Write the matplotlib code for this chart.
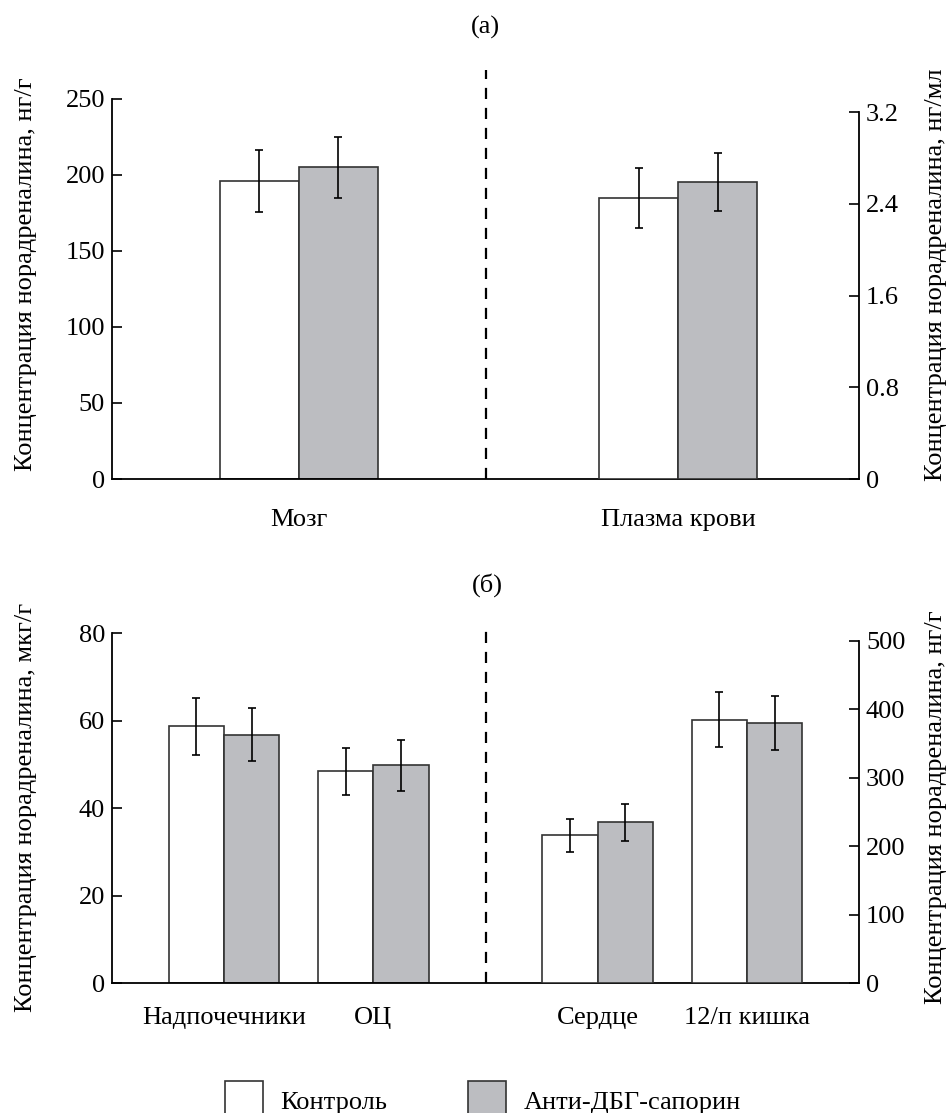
import matplotlib
matplotlib.use("Agg")
import matplotlib.pyplot as plt
from matplotlib.patches import Patch
import numpy as np

plt.rcParams['font.family'] = ['Liberation Serif', 'DejaVu Serif']
plt.rcParams['font.size'] = 19

# panel (a): brain (left axis, ng/g) and blood plasma (right axis, ng/ml)
a_groups = ['Мозг', 'Плазма крови']
a_control = [196, 2.45]
a_control_err = [20.5, 0.26]
a_saporin = [205, 2.59]
a_saporin_err = [20, 0.25]

# panel (б): adrenals and CNS (left axis, µg/g), heart and duodenum (right axis, ng/g)
b_groups = ['Надпочечники', 'ОЦ', 'Сердце', '12/п кишка']
b_control = [58.7, 48.4, 216, 385]
b_control_err = [6.5, 5.3, 24, 40]
b_saporin = [56.8, 49.8, 235, 380]
b_saporin_err = [6.0, 5.8, 27, 39]

series = ['Контроль', 'Анти-ДБГ-сапорин']

W, H = 949, 1113
fig = plt.figure(figsize=(W / 100, H / 100), dpi=100)

white = 'white'
gray = '#bcbdc1'
edge = '#333333'


def style_axes(ax, ax2, left_ticks, right_ticks, xpad):
    for a in (ax, ax2):
        a.spines['top'].set_visible(False)
        a.tick_params(axis='y', direction='in', length=7, width=1.2, pad=5)
        a.tick_params(axis='x', length=0, pad=xpad)
    ax.spines['right'].set_visible(False)
    ax2.spines['left'].set_visible(False)
    ax2.spines['bottom'].set_visible(False)
    ax.spines['left'].set_bounds(left_ticks[0], left_ticks[-1])
    ax2.spines['right'].set_bounds(right_ticks[0], right_ticks[-1])
    for s in ('left', 'bottom'):
        ax.spines[s].set_linewidth(1.3)
    ax2.spines['right'].set_linewidth(1.3)
    ax.set_yticks(left_ticks)
    ax2.set_yticks(right_ticks)
    # place the axis titles near the figure edges, as in the original
    ax.yaxis.set_label_coords(-0.1004, 0.5)
    ax2.yaxis.set_label_coords(1.0884, 0.5)


def draw_pair(ax, x, c, ce, s, se, w):
    ekw = dict(ecolor='black', elinewidth=1.2, capsize=3, capthick=1.2)
    ax.bar(x - w / 2, c, w, yerr=ce, color=white, edgecolor=edge,
           linewidth=1.2, error_kw=ekw, zorder=2)
    ax.bar(x + w / 2, s, w, yerr=se, color=gray, edgecolor=edge,
           linewidth=1.2, error_kw=ekw, zorder=2)


# ---- panel (a)
ax = fig.add_axes([112 / W, 1 - 479 / H, 747 / W, 409 / H])
ax2 = ax.twinx()
xa = np.array([1.25, 3.79])
w = 0.53
draw_pair(ax, xa[:1], a_control[:1], a_control_err[:1], a_saporin[:1], a_saporin_err[:1], w)
draw_pair(ax2, xa[1:], a_control[1:], a_control_err[1:], a_saporin[1:], a_saporin_err[1:], w)
ax.axvline(2.5, color='black', lw=1.6, ls=(0, (5, 4)), zorder=1)
ax.set_xticks(xa)
ax.set_xticklabels(a_groups)
style_axes(ax, ax2, [0, 50, 100, 150, 200, 250], [0, 0.8, 1.6, 2.4, 3.2], 21.5)
ax2.set_yticklabels(['0', '0.8', '1.6', '2.4', '3.2'])
ax.set_xlim(0, 5)
ax.set_ylim(0, 269)
ax2.set_ylim(0, 269 * 0.013265)
ax.set_ylabel('Концентрация норадреналина, нг/г')
ax2.set_ylabel('Концентрация норадреналина, нг/мл')
fig.text(485 / W, 1 - 27 / H, '(a)', ha='center', va='center')

# ---- panel (б)
bx = fig.add_axes([112 / W, 1 - 983 / H, 747 / W, 352 / H])
bx2 = bx.twinx()
xb = np.array([0.75, 1.75, 3.25, 4.25])
w = 0.37
draw_pair(bx, xb[:2], b_control[:2], b_control_err[:2], b_saporin[:2], b_saporin_err[:2], w)
draw_pair(bx2, xb[2:], b_control[2:], b_control_err[2:], b_saporin[2:], b_saporin_err[2:], w)
bx.axvline(2.5, color='black', lw=1.6, ls=(0, (5, 4)), zorder=1)
bx.set_xticks(xb)
bx.set_xticklabels(b_groups)
style_axes(bx, bx2, [0, 20, 40, 60, 80], [0, 100, 200, 300, 400, 500], 17.5)
bx.set_xlim(0, 5)
bx.set_ylim(0, 80.5)
bx2.set_ylim(0, 80.5 * 6.392)
bx.set_ylabel('Концентрация норадреналина, мкг/г')
bx2.set_ylabel('Концентрация норадреналина, нг/г')
fig.text(487 / W, 1 - 585 / H, '(б)', ha='center', va='center')

handles = [Patch(facecolor=white, edgecolor=edge, linewidth=1.2),
           Patch(facecolor=gray, edgecolor=edge, linewidth=1.2)]
fig.legend(handles, series, loc='center', bbox_to_anchor=(483 / W, 1 - 1101 / H),
           ncol=2, frameon=False, handlelength=1.45, handleheight=2.0,
           columnspacing=3.05, handletextpad=0.67)

fig.savefig('out.png', dpi=100)
